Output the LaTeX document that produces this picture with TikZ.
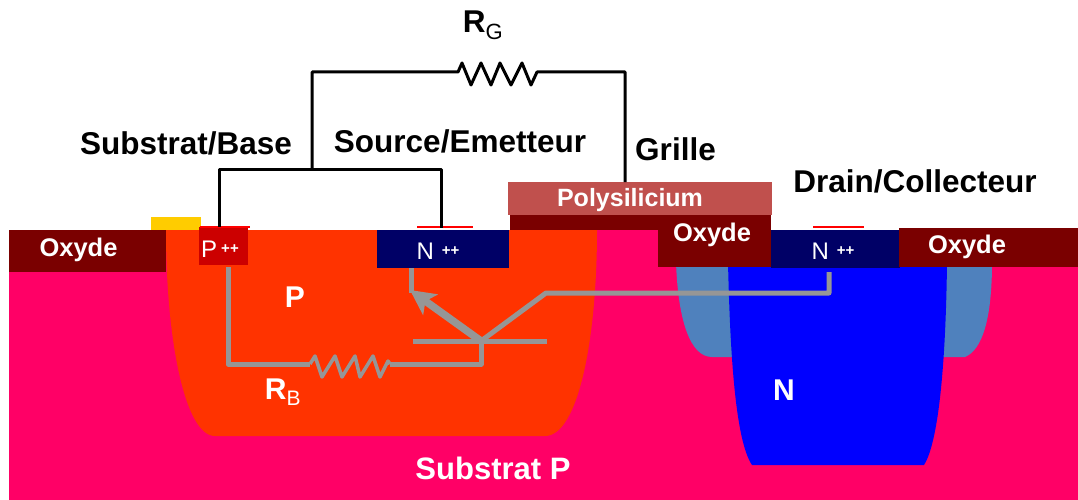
\documentclass[tikz,border=0pt]{standalone}
\usepackage{fontspec}
\setmainfont{Liberation Sans}
\usepackage{tikz}
\usetikzlibrary{arrows.meta}
\definecolor{pinksub}{RGB}{255,0,102}
\definecolor{orangewell}{RGB}{255,51,0}
\definecolor{bluewell}{RGB}{0,0,255}
\definecolor{lightwell}{RGB}{79,129,189}
\definecolor{darkoxide}{RGB}{122,0,0}
\definecolor{navydope}{RGB}{0,0,102}
\definecolor{reddope}{RGB}{204,0,0}
\definecolor{polycolor}{RGB}{192,80,77}
\definecolor{goldpad}{RGB}{255,204,0}
\definecolor{wiregray}{RGB}{150,150,150}
\newcommand{\dplus}{\,{\fontsize{15}{15}\bfseries\selectfont\raisebox{4pt}{++}}}
\tikzstyle{layer} =
[rectangle, inner sep = 0pt, outer sep = 0pt, text = white, font = \bfseries\fontsize{25.5}{26}\selectfont]
\tikzstyle{oxide} = [layer, fill=darkoxide]
\tikzstyle{ndope} = [layer, fill=navydope]
\tikzstyle{dopetext} =
[inner sep = 0pt, text = white, font = \fontsize{24}{26}\selectfont]
\tikzstyle{blacklabel} =
[inner sep = 0pt, text = black, font = \bfseries\fontsize{31.5}{32}\selectfont]
\tikzstyle{whitelabel} =
[inner sep = 0pt, text = white, font = \bfseries\fontsize{30}{30}\selectfont]
\tikzstyle{contact} = [draw=red, line width=1.5pt]
\tikzstyle{line} = [draw, black, line width=3pt, line join=round]
\tikzstyle{gline} = [draw, wiregray, line width=5pt, line join=round]
\tikzstyle{gzig} = [draw, wiregray, line width=3.5pt, line join=round]
\begin{document}
\begin{tikzpicture}[x=1pt, y=-1pt]
  \useasboundingbox (0,0) rectangle (1078,500);
  % substrate and wells
  \fill [pinksub] (8.5,230) rectangle (1078,500);
  \fill [orangewell] (166,230) .. controls (166,340) and (185,436) .. (215,436)
   -- (545,436) .. controls (578,436) and (597,340) .. (597,230) -- cycle;
  \fill [lightwell] (676,262) .. controls (678,320) and (690,357) .. (712,357)
   -- (965,357) .. controls (982,350) and (992,320) .. (992,262) -- cycle;
  \fill [bluewell] (728,262) .. controls (730,350) and (735,440) .. (752,465)
   -- (924,465) .. controls (940,440) and (946,350) .. (947,262) -- cycle;
  % surface nodes
  \node [oxide, minimum width=157.5pt, minimum height=42pt] (oxleft) at (87.5,251) {};
  \node [fill=goldpad, inner sep=0pt, minimum width=50pt, minimum height=13pt] (pad) at (176,223.5) {};
  \node [layer, fill=reddope, minimum width=49pt, minimum height=38pt] (pplus) at (223.5,246) {};
  \node [ndope, minimum width=132pt, minimum height=38pt] (nleft) at (443,249) {};
  \node [oxide, minimum width=261pt, minimum height=15pt] (oxthin) at (640.5,222.5) {};
  \node [oxide, minimum width=113pt, minimum height=52pt] (oxmid) at (714.5,241) {};
  \node [ndope, minimum width=129pt, minimum height=38pt] (nright) at (835.5,249) {};
  \node [oxide, minimum width=179pt, minimum height=39pt] (oxright) at (988.5,247.5) {};
  \node [layer, fill=polycolor, minimum width=264pt, minimum height=33pt] (poly) at (640,198.5) {};
  % texts on the layers
  \node [layer] (oxlefttxt) at (78.5,250) {Oxyde};
  \node [layer] (oxmidtxt) at (712,235) {Oxyde};
  \node [layer] (oxrighttxt) at (967,247) {Oxyde};
  \node [layer, font=\bfseries\fontsize{25}{26}\selectfont] (polytxt) at (630,200) {Polysilicium};
  \node [dopetext] (ptxt) at (220,249) {P\dplus};
  \node [dopetext] (nlefttxt) at (438,251) {N\,\dplus};
  \node [dopetext] (nrighttxt) at (833,251) {N\,\dplus};
  % black labels
  \node [blacklabel] (rg) at (483,25) {R\textsubscript{\mdseries G}};
  \node [blacklabel] (base) at (186,143) {Substrat/Base};
  \node [blacklabel] (source) at (460,141) {Source/Emetteur};
  \node [blacklabel] (grille) at (675.5,149) {Grille};
  \node [blacklabel] (drain) at (915,181) {Drain/Collecteur};
  % white labels
  \node [whitelabel] (ptype) at (295,297) {P};
  \node [whitelabel] (ntype) at (784,390) {N};
  \node [whitelabel] (rb) at (283,392) {R\textsubscript{\mdseries B}};
  \node [whitelabel, font=\bfseries\fontsize{31}{31}\selectfont] (subtxt) at (493,468) {Substrat P};
  % contacts
  \path [contact] (200,227) -- (250,227);
  \path [contact] (417,227) -- (473,227);
  \path [contact] (813,227) -- (864,227);
  % black circuit
  \coordinate (basetop) at (219,169);
  \coordinate (sourcetop) at (441,169);
  \coordinate (rgtap) at (312,169);
  \coordinate (rgleft) at (312,72);
  \coordinate (rgright) at (625,72);
  \path [line] (219,227) -- (basetop) -- (sourcetop) -- (441,228);
  \path [line] (rgtap) -- (rgleft) -- (458,72) -- (462,63) -- (471,85) -- (481,63)
   -- (491,85) -- (500,63) -- (511,85) -- (522,63) -- (531,85) -- (537,72)
   -- (rgright) -- (rgright |- poly.north);
  % gray transistor
  \coordinate (bjt) at (481,341);
  \coordinate (rblow) at (228,364);
  \coordinate (rbzigl) at (310,364);
  \coordinate (rbzigr) at (390,364);
  \coordinate (elbow) at (546,293);
  \path [gline] (228,267) -- (rblow) -- (rbzigl);
  \path [gzig] (rbzigl) -- (315,356) -- (322,377) -- (335,356) -- (342,377) -- (355,356)
   -- (360,377) -- (373,356) -- (380,377) -- (388,361) -- (rbzigr);
  \path [gline] (rbzigr) -- (481,364) -- (bjt);
  \path [gline] (413,341) -- (547,341);
  \path [gline] (bjt) -- (elbow) -- (829,293) -- (829,272);
  \path [gline] (411,268) -- (411,293);
  \path [draw, wiregray, line width=7.5pt, -{Stealth[length=25pt, width=25pt, inset=6pt]}] (bjt) -- (410,290);
\end{tikzpicture}
\end{document}
